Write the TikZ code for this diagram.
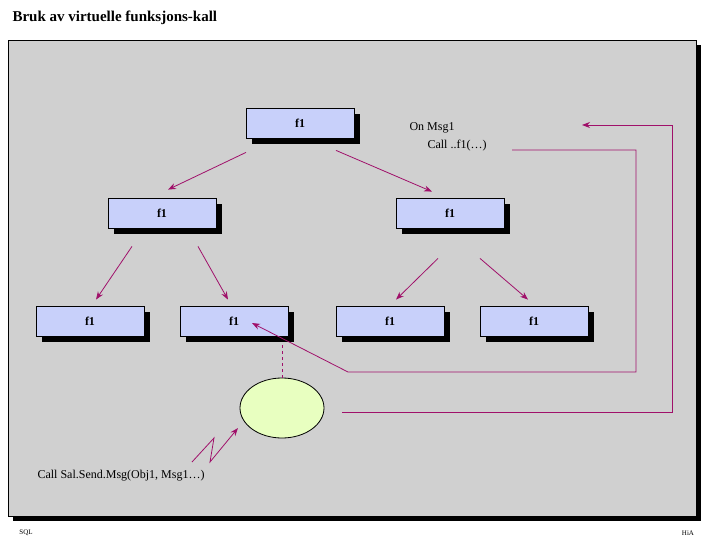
\documentclass[tikz,border=0pt]{standalone}
\usepackage{tikz}
\usepackage{fontspec}
\setmainfont{Liberation Serif}
\usetikzlibrary{shadows, shapes.geometric, arrows.meta}
\definecolor{panelgray}{RGB}{208,208,208}
\definecolor{boxblue}{RGB}{200,208,250}
\definecolor{objgreen}{RGB}{232,255,192}
\definecolor{callred}{RGB}{160,16,106}
\begin{document}
\begin{tikzpicture}[x=1pt, y=-1pt, font=\fontsize{12}{14}\selectfont,
    fn_style/.style={rectangle, draw=black, thick, fill=boxblue, minimum width=108pt, minimum height=30pt,
        inner sep=0pt, font=\fontsize{12}{14}\selectfont\bfseries,
        drop shadow={shadow xshift=6pt, shadow yshift=-6pt, fill=black, opacity=1}},
    obj_style/.style={ellipse, draw=black, thick, fill=objgreen, minimum width=84pt, minimum height=60pt},
    call_style/.style={draw=callred, thick, -{Stealth[length=8pt]}}]
    \useasboundingbox (0,0) rectangle (720,540);
    \fill[black] (13,45) rectangle (701,521);
    \draw[fill=panelgray] (8,40) rectangle (696,516);
    \node[anchor=west, font=\fontsize{15}{17}\selectfont\bfseries] (title) at (9,18) {Bruk av virtuelle funksjons-kall};
    \node[font=\fontsize{7}{8}\selectfont] (sql) at (26,533) {SQL};
    \node[font=\fontsize{7}{8}\selectfont] (hia) at (688,533) {HiA};

    \node[fn_style] (f0) at (300,123) {f1};
    \node[fn_style] (f1) at (162,213) {f1};
    \node[fn_style] (f2) at (450,213) {f1};
    \node[fn_style] (f11) at (90,321) {f1};
    \node[fn_style] (f12) at (234,321) {f1};
    \node[fn_style] (f21) at (390,321) {f1};
    \node[fn_style] (f22) at (534,321) {f1};
    \node[obj_style] (obj) at (282,408) {};

    \node[anchor=west] (msg) at (406,128) {On Msg1};
    \node[anchor=west] (callf) at (424,146) {Call ..f1(\dots)};
    \node[anchor=west] (send) at (34,476) {Call Sal.Send.Msg(Obj1, Msg1\dots)};

    \coordinate (r1) at (582,125);
    \coordinate (s1) at (512,150);
    \coordinate (z0) at (192,462);
    \coordinate (z1) at (214,438);
    \coordinate (z2) at (210,462);
    \coordinate (z3) at (238,428);

    \draw[call_style] ([xshift=-54pt,yshift=-14pt]f0.south) -- ([xshift=6pt,yshift=8pt]f1.north);
    \draw[call_style] ([xshift=36pt,yshift=-12pt]f0.south) -- ([xshift=-18pt,yshift=6pt]f2.north);
    \draw[call_style] ([xshift=-30pt,yshift=-18pt]f1.south) -- ([xshift=6pt,yshift=6pt]f11.north);
    \draw[call_style] ([xshift=36pt,yshift=-18pt]f1.south) -- ([xshift=-6pt,yshift=6pt]f12.north);
    \draw[call_style] ([xshift=-12pt,yshift=-30pt]f2.south) -- ([xshift=6pt,yshift=6pt]f21.north);
    \draw[call_style] ([xshift=30pt,yshift=-30pt]f2.south) -- ([xshift=-6pt,yshift=6pt]f22.north);
    \draw[call_style] (s1) -- (636,150) -- (636,372) -- (348,372) -- ([xshift=18pt,yshift=-2pt]f12.center);
    \draw[call_style] ([xshift=18pt,yshift=-4pt]obj.east) -- (672,412) -- (672,125) -- (r1);
    \draw[draw=callred, thick, dashed] ([xshift=48pt,yshift=-9pt]f12.south) -- (obj.north);
    \draw[call_style] (z0) -- (z1) -- (z2) -- (z3);
\end{tikzpicture}
\end{document}
